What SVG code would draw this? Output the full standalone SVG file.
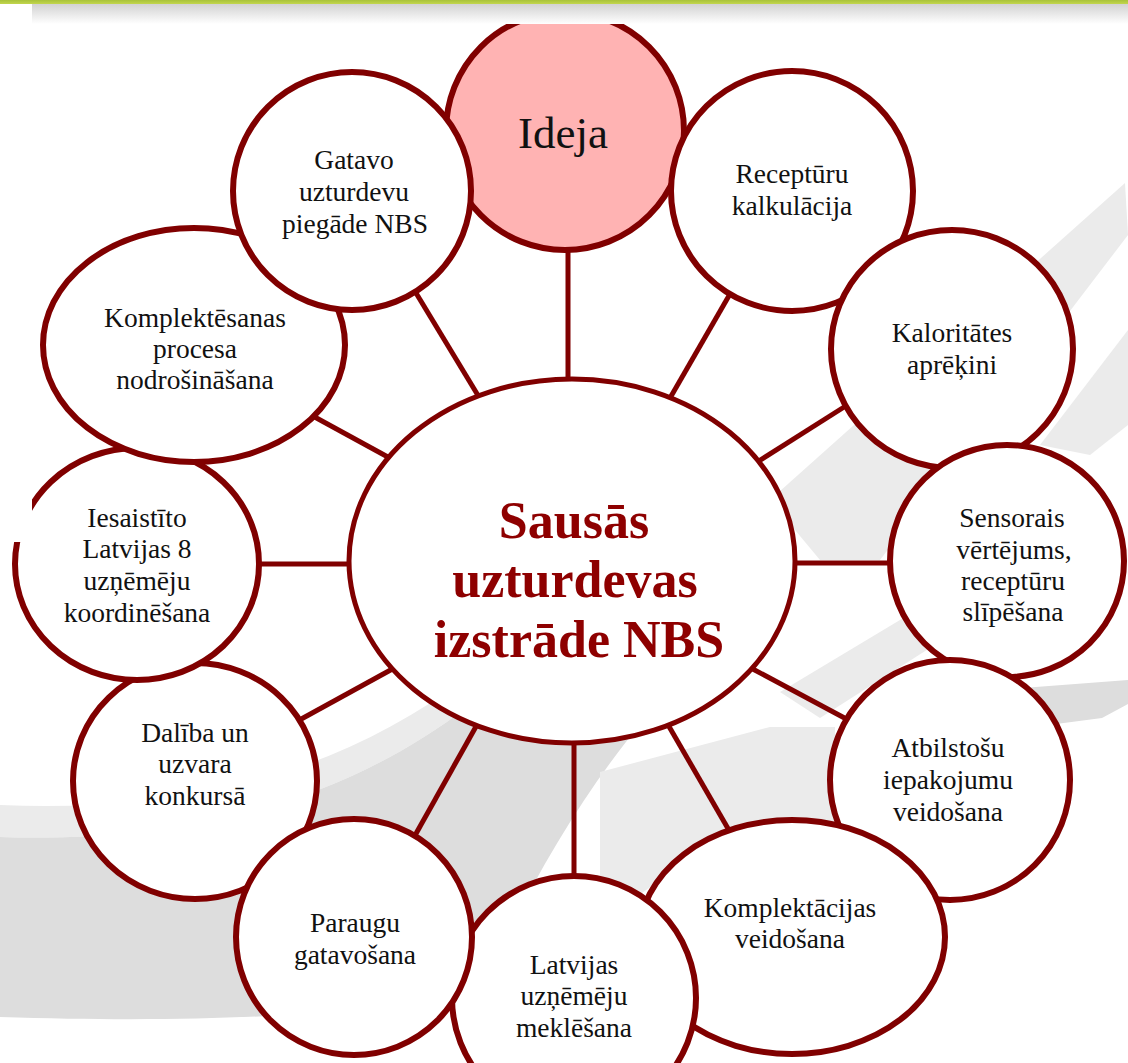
<svg xmlns="http://www.w3.org/2000/svg" width="1128" height="1063" viewBox="0 0 1128 1063">
<defs>
<linearGradient id="topfade" x1="0" y1="0" x2="0" y2="1"><stop offset="0" stop-color="#d2d2d2"/><stop offset="1" stop-color="#ffffff"/></linearGradient>
<linearGradient id="green" x1="0" y1="0" x2="0" y2="1"><stop offset="0" stop-color="#a8c23a"/><stop offset="1" stop-color="#c2d64e"/></linearGradient>
</defs>
<style>
.node ellipse{fill:#ffffff;stroke:#800000;stroke-width:6}
.node text{font-family:"Liberation Serif","Times New Roman",Tinos,"DejaVu Serif",serif;font-size:27.5px;fill:#111111;text-anchor:middle}
#ideja ellipse{fill:#ffb3b3}
#ideja text{font-size:45px}
#center ellipse{stroke-width:5}
#center text{font-size:52px;font-weight:bold;fill:#8e0000}
.conn line{stroke:#800000;stroke-width:5}
.bg1{fill:#dddddd}
.bg2{fill:#ebebeb}
</style>
<rect x="0" y="0" width="1128" height="1063" fill="#ffffff"/>
<g id="background">
<path class="bg2" d="M0,805 C170,812 330,782 470,675 L700,510 L720,540 L470,705 C330,812 170,842 0,837 Z"/>
<path class="bg1" d="M0,837 C170,842 330,812 470,705 L700,540 L760,610 C640,700 560,820 480,990 C400,1010 250,1025 0,1017 Z"/>
<path class="bg2" d="M600,772 L770,727 L835,727 L835,822 L725,832 L642,893 L600,882 Z"/>
<path class="bg2" d="M780,692 L925,605 L955,632 L820,718 Z"/>
<path class="bg1" d="M995,690 L1128,680 L1128,704 L1102,718 L995,732 Z"/>
<path class="bg2" d="M770,500 L1125,183 L1128,235 L880,560 L820,560 Z"/>
<path class="bg2" d="M1040,445 L1128,330 L1128,425 L1090,455 Z"/>
</g>
<g class="conn" id="connectors">
<line x1="568" y1="240" x2="568" y2="390"/>
<line x1="734" y1="287" x2="666" y2="405"/>
<line x1="852" y1="402" x2="754" y2="464"/>
<line x1="790" y1="563" x2="895" y2="563"/>
<line x1="749" y1="667" x2="852" y2="722"/>
<line x1="667" y1="723" x2="730" y2="832"/>
<line x1="574" y1="735" x2="574" y2="885"/>
<line x1="478" y1="723" x2="413" y2="839"/>
<line x1="396" y1="667" x2="294" y2="723"/>
<line x1="255" y1="564" x2="355" y2="564"/>
<line x1="311" y1="415" x2="397" y2="462"/>
<line x1="413" y1="288" x2="482" y2="402"/>
</g>
<g class="node" id="center">
<ellipse cx="572" cy="561" rx="223" ry="182"/>
<text x="574" y="538">Sausās</text>
<text x="575" y="597">uzturdevas</text>
<text x="579" y="657">izstrāde NBS</text>
</g>
<g class="node" id="ideja">
<ellipse cx="565" cy="131" rx="119" ry="119"/>
<text x="563" y="148">Ideja</text>
</g>
<g class="node" id="receptururu">
<ellipse cx="792" cy="191" rx="121" ry="120"/>
<text x="792" y="183">Receptūru</text>
<text x="792" y="215">kalkulācija</text>
</g>
<g class="node" id="kaloritates">
<ellipse cx="952" cy="349" rx="121" ry="119"/>
<text x="952" y="342">Kaloritātes</text>
<text x="952" y="374">aprēķini</text>
</g>
<g class="node" id="sensorais">
<ellipse cx="1007" cy="561" rx="117" ry="116"/>
<text x="1012" y="527">Sensorais</text>
<text x="1014" y="559">vērtējums,</text>
<text x="1013" y="590">receptūru</text>
<text x="1013" y="621">slīpēšana</text>
</g>
<g class="node" id="atbilstosu">
<ellipse cx="950" cy="780" rx="120" ry="120"/>
<text x="948" y="757">Atbilstošu</text>
<text x="948" y="789">iepakojumu</text>
<text x="948" y="821">veidošana</text>
</g>
<g class="node" id="komplektacijas">
<ellipse cx="792" cy="937" rx="153" ry="117"/>
<text x="790" y="917">Komplektācijas</text>
<text x="790" y="948">veidošana</text>
</g>
<g class="node" id="latvijas">
<ellipse cx="574" cy="998" rx="122" ry="122"/>
<text x="574" y="974">Latvijas</text>
<text x="574" y="1005">uzņēmēju</text>
<text x="574" y="1037">meklēšana</text>
</g>
<g class="node" id="daliba">
<ellipse cx="195" cy="781" rx="122" ry="118"/>
<text x="195" y="742">Dalība un</text>
<text x="195" y="773">uzvara</text>
<text x="195" y="805">konkursā</text>
</g>
<g class="node" id="paraugu">
<ellipse cx="354" cy="937" rx="118" ry="118"/>
<text x="355" y="932">Paraugu</text>
<text x="355" y="964">gatavošana</text>
</g>
<g class="node" id="iesaistito">
<ellipse cx="137" cy="564" rx="122" ry="116"/>
<text x="137" y="527">Iesaistīto</text>
<text x="137" y="558">Latvijas 8</text>
<text x="137" y="590">uzņēmēju</text>
<text x="137" y="622">koordinēšana</text>
</g>
<g class="node" id="komplektesanas">
<ellipse cx="194" cy="345" rx="151" ry="117"/>
<text x="195" y="327">Komplektēsanas</text>
<text x="195" y="358">procesa</text>
<text x="195" y="389">nodrošināšana</text>
</g>
<g class="node" id="gatavo">
<ellipse cx="352" cy="191" rx="119" ry="119"/>
<text x="354" y="169">Gatavo</text>
<text x="354" y="201">uzturdevu</text>
<text x="355" y="233">piegāde NBS</text>
</g>
<g id="frame">
<rect x="0" y="4" width="1128" height="20" fill="url(#topfade)"/>
<rect x="0" y="0" width="1128" height="4" fill="url(#green)"/>
<rect x="0" y="4" width="32" height="538" fill="#ffffff"/>
</g>
</svg>
